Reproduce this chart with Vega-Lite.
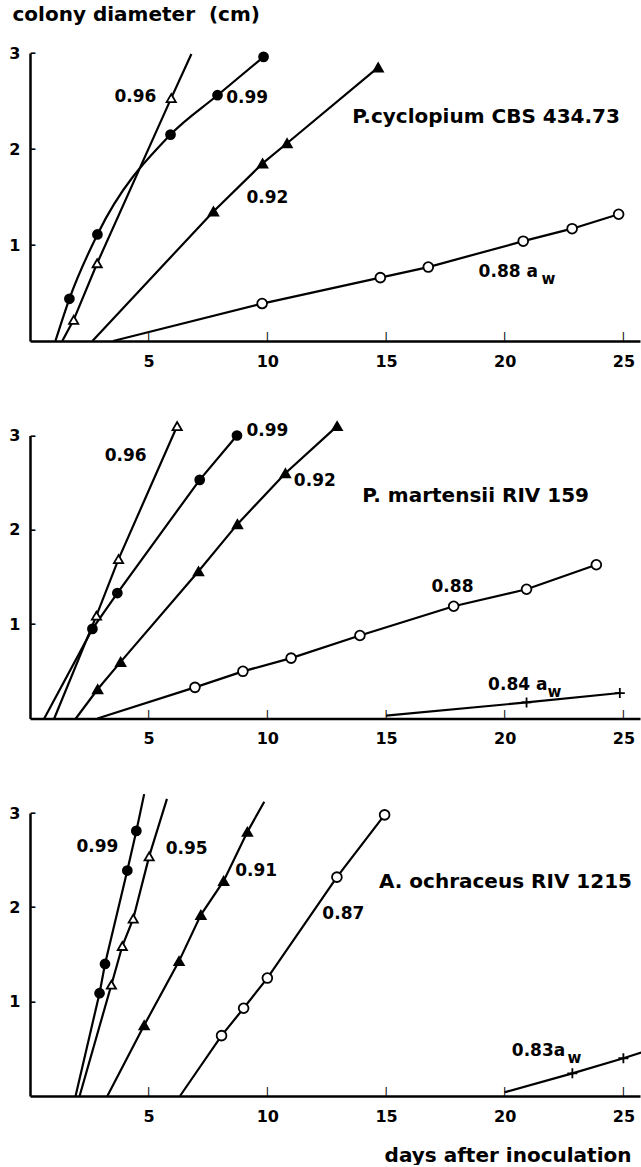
{
  "$schema": "https://vega.github.io/schema/vega-lite/v6.json",
  "bounds": "flush",
  "spacing": 94.5,
  "padding": {"left": 8, "top": 4, "right": 0, "bottom": 0},
  "background": "white",
  "config": {
    "view": {"stroke": null},
    "font": "DejaVu Sans",
    "axis": {
      "grid": false,
      "domainColor": "black",
      "domainWidth": 2.5,
      "ticks": false,
      "labelFont": "DejaVu Sans",
      "labelFontWeight": "bold",
      "labelFontSize": 16,
      "labelColor": "black",
      "titleFont": "DejaVu Sans",
      "titleFontWeight": "bold",
      "titleFontSize": 20,
      "titleColor": "black"
    },
    "axisX": {"labelPadding": 12},
    "axisY": {"labelPadding": 10}
  },
  "resolve": {"scale": {"x": "independent", "y": "independent"}},
  "datasets": {
    "guideMarks": [
      {"panel": "cyc", "dir": "up", "day": 5, "diam": 0},
      {"panel": "cyc", "dir": "up", "day": 10, "diam": 0},
      {"panel": "cyc", "dir": "up", "day": 15, "diam": 0},
      {"panel": "cyc", "dir": "up", "day": 20, "diam": 0},
      {"panel": "cyc", "dir": "up", "day": 25, "diam": 0},
      {"panel": "cyc", "dir": "right", "day": 0, "diam": 1},
      {"panel": "cyc", "dir": "right", "day": 0, "diam": 2},
      {"panel": "cyc", "dir": "right", "day": 0, "diam": 3},
      {"panel": "mar", "dir": "up", "day": 5, "diam": 0},
      {"panel": "mar", "dir": "up", "day": 10, "diam": 0},
      {"panel": "mar", "dir": "up", "day": 15, "diam": 0},
      {"panel": "mar", "dir": "up", "day": 20, "diam": 0},
      {"panel": "mar", "dir": "up", "day": 25, "diam": 0},
      {"panel": "mar", "dir": "right", "day": 0, "diam": 1},
      {"panel": "mar", "dir": "right", "day": 0, "diam": 2},
      {"panel": "mar", "dir": "right", "day": 0, "diam": 3},
      {"panel": "och", "dir": "up", "day": 5, "diam": 0},
      {"panel": "och", "dir": "up", "day": 10, "diam": 0},
      {"panel": "och", "dir": "up", "day": 15, "diam": 0},
      {"panel": "och", "dir": "up", "day": 20, "diam": 0},
      {"panel": "och", "dir": "up", "day": 25, "diam": 0},
      {"panel": "och", "dir": "right", "day": 0, "diam": 1},
      {"panel": "och", "dir": "right", "day": 0, "diam": 2},
      {"panel": "och", "dir": "right", "day": 0, "diam": 3}
    ],
    "points": [
      {"panel": "cyc", "aw": "0.99", "rank": 1, "day": 1.66, "diam": 0.44},
      {"panel": "cyc", "aw": "0.99", "rank": 1, "day": 2.84, "diam": 1.11},
      {"panel": "cyc", "aw": "0.99", "rank": 1, "day": 5.92, "diam": 2.15},
      {"panel": "cyc", "aw": "0.99", "rank": 1, "day": 7.9, "diam": 2.56},
      {"panel": "cyc", "aw": "0.99", "rank": 1, "day": 9.84, "diam": 2.96},
      {"panel": "cyc", "aw": "0.96", "rank": 2, "day": 1.84, "diam": 0.22},
      {"panel": "cyc", "aw": "0.96", "rank": 2, "day": 2.83, "diam": 0.81},
      {"panel": "cyc", "aw": "0.96", "rank": 2, "day": 5.95, "diam": 2.53},
      {"panel": "cyc", "aw": "0.92", "rank": 3, "day": 7.73, "diam": 1.35},
      {"panel": "cyc", "aw": "0.92", "rank": 3, "day": 9.8, "diam": 1.85},
      {"panel": "cyc", "aw": "0.92", "rank": 3, "day": 10.83, "diam": 2.06},
      {"panel": "cyc", "aw": "0.92", "rank": 3, "day": 14.67, "diam": 2.85},
      {"panel": "cyc", "aw": "0.88", "rank": 4, "day": 9.78, "diam": 0.39},
      {"panel": "cyc", "aw": "0.88", "rank": 4, "day": 14.76, "diam": 0.66},
      {"panel": "cyc", "aw": "0.88", "rank": 4, "day": 16.78, "diam": 0.77},
      {"panel": "cyc", "aw": "0.88", "rank": 4, "day": 20.78, "diam": 1.04},
      {"panel": "cyc", "aw": "0.88", "rank": 4, "day": 22.84, "diam": 1.17},
      {"panel": "cyc", "aw": "0.88", "rank": 4, "day": 24.8, "diam": 1.32},

      {"panel": "mar", "aw": "0.99", "rank": 1, "day": 2.63, "diam": 0.95},
      {"panel": "mar", "aw": "0.99", "rank": 1, "day": 3.68, "diam": 1.33},
      {"panel": "mar", "aw": "0.99", "rank": 1, "day": 7.15, "diam": 2.53},
      {"panel": "mar", "aw": "0.99", "rank": 1, "day": 8.72, "diam": 3.0},
      {"panel": "mar", "aw": "0.96", "rank": 2, "day": 2.8, "diam": 1.09},
      {"panel": "mar", "aw": "0.96", "rank": 2, "day": 3.73, "diam": 1.69},
      {"panel": "mar", "aw": "0.96", "rank": 2, "day": 6.2, "diam": 3.1},
      {"panel": "mar", "aw": "0.92", "rank": 3, "day": 2.85, "diam": 0.31},
      {"panel": "mar", "aw": "0.92", "rank": 3, "day": 3.82, "diam": 0.6},
      {"panel": "mar", "aw": "0.92", "rank": 3, "day": 7.1, "diam": 1.56},
      {"panel": "mar", "aw": "0.92", "rank": 3, "day": 8.74, "diam": 2.06},
      {"panel": "mar", "aw": "0.92", "rank": 3, "day": 10.76, "diam": 2.6},
      {"panel": "mar", "aw": "0.92", "rank": 3, "day": 12.94, "diam": 3.1},
      {"panel": "mar", "aw": "0.88", "rank": 4, "day": 6.95, "diam": 0.33},
      {"panel": "mar", "aw": "0.88", "rank": 4, "day": 8.97, "diam": 0.5},
      {"panel": "mar", "aw": "0.88", "rank": 4, "day": 11.0, "diam": 0.64},
      {"panel": "mar", "aw": "0.88", "rank": 4, "day": 13.9, "diam": 0.88},
      {"panel": "mar", "aw": "0.88", "rank": 4, "day": 17.85, "diam": 1.19},
      {"panel": "mar", "aw": "0.88", "rank": 4, "day": 20.92, "diam": 1.37},
      {"panel": "mar", "aw": "0.88", "rank": 4, "day": 23.86, "diam": 1.63},
      {"panel": "mar", "aw": "0.84", "rank": 5, "day": 20.92, "diam": 0.17},
      {"panel": "mar", "aw": "0.84", "rank": 5, "day": 24.85, "diam": 0.27},

      {"panel": "och", "aw": "0.99", "rank": 1, "day": 2.93, "diam": 1.09},
      {"panel": "och", "aw": "0.99", "rank": 1, "day": 3.16, "diam": 1.4},
      {"panel": "och", "aw": "0.99", "rank": 1, "day": 4.1, "diam": 2.39},
      {"panel": "och", "aw": "0.99", "rank": 1, "day": 4.48, "diam": 2.81},
      {"panel": "och", "aw": "0.95", "rank": 2, "day": 3.43, "diam": 1.18},
      {"panel": "och", "aw": "0.95", "rank": 2, "day": 3.89, "diam": 1.59},
      {"panel": "och", "aw": "0.95", "rank": 2, "day": 4.35, "diam": 1.88},
      {"panel": "och", "aw": "0.95", "rank": 2, "day": 5.02, "diam": 2.54},
      {"panel": "och", "aw": "0.91", "rank": 3, "day": 4.81, "diam": 0.75},
      {"panel": "och", "aw": "0.91", "rank": 3, "day": 6.28, "diam": 1.43},
      {"panel": "och", "aw": "0.91", "rank": 3, "day": 7.2, "diam": 1.92},
      {"panel": "och", "aw": "0.91", "rank": 3, "day": 8.16, "diam": 2.28},
      {"panel": "och", "aw": "0.91", "rank": 3, "day": 9.16, "diam": 2.8},
      {"panel": "och", "aw": "0.87", "rank": 4, "day": 8.07, "diam": 0.64},
      {"panel": "och", "aw": "0.87", "rank": 4, "day": 9.0, "diam": 0.93},
      {"panel": "och", "aw": "0.87", "rank": 4, "day": 10.0, "diam": 1.25},
      {"panel": "och", "aw": "0.87", "rank": 4, "day": 12.93, "diam": 2.32},
      {"panel": "och", "aw": "0.87", "rank": 4, "day": 14.94, "diam": 2.98},
      {"panel": "och", "aw": "0.83", "rank": 5, "day": 22.85, "diam": 0.24},
      {"panel": "och", "aw": "0.83", "rank": 5, "day": 25.0, "diam": 0.4}
    ],
    "lines": [
      {"panel": "cyc", "aw": "0.99", "day": 1.07, "diam": 0},
      {"panel": "cyc", "aw": "0.99", "day": 1.66, "diam": 0.44},
      {"panel": "cyc", "aw": "0.99", "day": 2.84, "diam": 1.11},
      {"panel": "cyc", "aw": "0.99", "day": 5.92, "diam": 2.15},
      {"panel": "cyc", "aw": "0.99", "day": 7.9, "diam": 2.56},
      {"panel": "cyc", "aw": "0.99", "day": 9.84, "diam": 2.96},
      {"panel": "cyc", "aw": "0.96", "day": 1.36, "diam": 0},
      {"panel": "cyc", "aw": "0.96", "day": 1.84, "diam": 0.22},
      {"panel": "cyc", "aw": "0.96", "day": 2.83, "diam": 0.81},
      {"panel": "cyc", "aw": "0.96", "day": 5.95, "diam": 2.53},
      {"panel": "cyc", "aw": "0.96", "day": 6.8, "diam": 2.99},
      {"panel": "cyc", "aw": "0.92", "day": 2.63, "diam": 0},
      {"panel": "cyc", "aw": "0.92", "day": 7.73, "diam": 1.35},
      {"panel": "cyc", "aw": "0.92", "day": 9.8, "diam": 1.85},
      {"panel": "cyc", "aw": "0.92", "day": 10.83, "diam": 2.06},
      {"panel": "cyc", "aw": "0.92", "day": 14.67, "diam": 2.85},
      {"panel": "cyc", "aw": "0.88", "day": 3.5, "diam": 0},
      {"panel": "cyc", "aw": "0.88", "day": 9.78, "diam": 0.39},
      {"panel": "cyc", "aw": "0.88", "day": 14.76, "diam": 0.66},
      {"panel": "cyc", "aw": "0.88", "day": 16.78, "diam": 0.77},
      {"panel": "cyc", "aw": "0.88", "day": 20.78, "diam": 1.04},
      {"panel": "cyc", "aw": "0.88", "day": 22.84, "diam": 1.17},
      {"panel": "cyc", "aw": "0.88", "day": 24.8, "diam": 1.32},

      {"panel": "mar", "aw": "0.99", "day": 0.6, "diam": 0},
      {"panel": "mar", "aw": "0.99", "day": 2.63, "diam": 0.95},
      {"panel": "mar", "aw": "0.99", "day": 3.68, "diam": 1.33},
      {"panel": "mar", "aw": "0.99", "day": 7.15, "diam": 2.53},
      {"panel": "mar", "aw": "0.99", "day": 8.72, "diam": 3.0},
      {"panel": "mar", "aw": "0.96", "day": 1.02, "diam": 0},
      {"panel": "mar", "aw": "0.96", "day": 2.8, "diam": 1.09},
      {"panel": "mar", "aw": "0.96", "day": 3.73, "diam": 1.69},
      {"panel": "mar", "aw": "0.96", "day": 6.2, "diam": 3.1},
      {"panel": "mar", "aw": "0.92", "day": 1.93, "diam": 0},
      {"panel": "mar", "aw": "0.92", "day": 2.85, "diam": 0.31},
      {"panel": "mar", "aw": "0.92", "day": 3.82, "diam": 0.6},
      {"panel": "mar", "aw": "0.92", "day": 7.1, "diam": 1.56},
      {"panel": "mar", "aw": "0.92", "day": 8.74, "diam": 2.06},
      {"panel": "mar", "aw": "0.92", "day": 10.76, "diam": 2.6},
      {"panel": "mar", "aw": "0.92", "day": 12.94, "diam": 3.1},
      {"panel": "mar", "aw": "0.88", "day": 2.84, "diam": 0},
      {"panel": "mar", "aw": "0.88", "day": 6.95, "diam": 0.33},
      {"panel": "mar", "aw": "0.88", "day": 8.97, "diam": 0.5},
      {"panel": "mar", "aw": "0.88", "day": 11.0, "diam": 0.64},
      {"panel": "mar", "aw": "0.88", "day": 13.9, "diam": 0.88},
      {"panel": "mar", "aw": "0.88", "day": 17.85, "diam": 1.19},
      {"panel": "mar", "aw": "0.88", "day": 20.92, "diam": 1.37},
      {"panel": "mar", "aw": "0.88", "day": 23.86, "diam": 1.63},
      {"panel": "mar", "aw": "0.84", "day": 15.0, "diam": 0.03},
      {"panel": "mar", "aw": "0.84", "day": 20.92, "diam": 0.17},
      {"panel": "mar", "aw": "0.84", "day": 24.85, "diam": 0.27},

      {"panel": "och", "aw": "0.99", "day": 1.92, "diam": 0},
      {"panel": "och", "aw": "0.99", "day": 2.93, "diam": 1.09},
      {"panel": "och", "aw": "0.99", "day": 3.16, "diam": 1.4},
      {"panel": "och", "aw": "0.99", "day": 4.1, "diam": 2.39},
      {"panel": "och", "aw": "0.99", "day": 4.48, "diam": 2.81},
      {"panel": "och", "aw": "0.99", "day": 4.81, "diam": 3.2},
      {"panel": "och", "aw": "0.95", "day": 2.09, "diam": 0},
      {"panel": "och", "aw": "0.95", "day": 3.43, "diam": 1.18},
      {"panel": "och", "aw": "0.95", "day": 3.89, "diam": 1.59},
      {"panel": "och", "aw": "0.95", "day": 4.35, "diam": 1.88},
      {"panel": "och", "aw": "0.95", "day": 5.02, "diam": 2.54},
      {"panel": "och", "aw": "0.95", "day": 5.77, "diam": 3.15},
      {"panel": "och", "aw": "0.91", "day": 3.26, "diam": 0},
      {"panel": "och", "aw": "0.91", "day": 4.81, "diam": 0.75},
      {"panel": "och", "aw": "0.91", "day": 6.28, "diam": 1.43},
      {"panel": "och", "aw": "0.91", "day": 7.2, "diam": 1.92},
      {"panel": "och", "aw": "0.91", "day": 8.16, "diam": 2.28},
      {"panel": "och", "aw": "0.91", "day": 9.16, "diam": 2.8},
      {"panel": "och", "aw": "0.91", "day": 9.87, "diam": 3.12},
      {"panel": "och", "aw": "0.87", "day": 6.32, "diam": 0},
      {"panel": "och", "aw": "0.87", "day": 8.07, "diam": 0.64},
      {"panel": "och", "aw": "0.87", "day": 9.0, "diam": 0.93},
      {"panel": "och", "aw": "0.87", "day": 10.0, "diam": 1.25},
      {"panel": "och", "aw": "0.87", "day": 12.93, "diam": 2.32},
      {"panel": "och", "aw": "0.87", "day": 14.94, "diam": 2.98},
      {"panel": "och", "aw": "0.83", "day": 20.0, "diam": 0.04},
      {"panel": "och", "aw": "0.83", "day": 22.85, "diam": 0.24},
      {"panel": "och", "aw": "0.83", "day": 25.0, "diam": 0.4},
      {"panel": "och", "aw": "0.83", "day": 25.75, "diam": 0.46}
    ],
    "awLabels": [
      {"panel": "cyc", "text": "0.96", "day": 4.44, "diam": 2.54},
      {"panel": "cyc", "text": "0.99", "day": 9.15, "diam": 2.53},
      {"panel": "cyc", "text": "0.92", "day": 10.0, "diam": 1.49},
      {"panel": "mar", "text": "0.96", "day": 4.03, "diam": 2.78},
      {"panel": "mar", "text": "0.99", "day": 10.0, "diam": 3.05},
      {"panel": "mar", "text": "0.92", "day": 12.0, "diam": 2.52},
      {"panel": "mar", "text": "0.88", "day": 17.8, "diam": 1.39},
      {"panel": "och", "text": "0.99", "day": 2.84, "diam": 2.64},
      {"panel": "och", "text": "0.95", "day": 6.6, "diam": 2.62},
      {"panel": "och", "text": "0.91", "day": 9.53, "diam": 2.38},
      {"panel": "och", "text": "0.87", "day": 13.2, "diam": 1.93}
    ],
    "awEnd": [
      {"panel": "cyc", "text": "0.88 a", "day": 18.9, "diam": 0.72},
      {"panel": "mar", "text": "0.84 a", "day": 19.3, "diam": 0.36},
      {"panel": "och", "text": "0.83a", "day": 20.3, "diam": 0.48}
    ],
    "awSub": [
      {"panel": "cyc", "text": "w", "day": 21.55, "diam": 0.65},
      {"panel": "mar", "text": "w", "day": 21.8, "diam": 0.28},
      {"panel": "och", "text": "w", "day": 22.65, "diam": 0.4}
    ],
    "species": [
      {"panel": "cyc", "text": "P.cyclopium CBS 434.73", "day": 13.58, "diam": 2.33},
      {"panel": "mar", "text": "P. martensii RIV 159", "day": 14.0, "diam": 2.36},
      {"panel": "och", "text": "A. ochraceus RIV 1215", "day": 14.7, "diam": 2.27}
    ]
  },
  "vconcat": [
    {
      "width": 610,
      "height": 288,
      "encoding": {
        "x": {"field": "day", "type": "quantitative", "scale": {"domain": [0, 25.7]},
              "axis": {"values": [5, 10, 15, 20, 25], "title": null}},
        "y": {"field": "diam", "type": "quantitative", "scale": {"domain": [0, 3]},
              "axis": {"values": [1, 2, 3], "title": "colony diameter\u00a0\u00a0(cm)", "titleAngle": 0,
                       "titleAlign": "left", "titleBaseline": "top", "titleX": -18, "titleY": -49}}
      },
      "layer": [
        {"data": {"name": "lines"}, "transform": [{"filter": "datum.panel === 'cyc' && datum.aw !== '0.99'"}],
         "mark": {"type": "line", "color": "black", "strokeWidth": 2.2},
         "encoding": {"detail": {"field": "aw"}}},
        {"data": {"name": "lines"}, "transform": [{"filter": "datum.panel === 'cyc' && datum.aw === '0.99'"}],
         "mark": {"type": "line", "interpolate": "monotone", "color": "black", "strokeWidth": 2.2},
         "encoding": {"detail": {"field": "aw"}}},
        {"data": {"name": "points"}, "transform": [{"filter": "datum.panel === 'cyc'"}],
         "mark": {"type": "point", "filled": true, "stroke": "black", "strokeWidth": 1.8, "opacity": 1},
         "encoding": {
           "shape": {"field": "rank", "type": "ordinal", "scale": {"domain": [1, 2, 3, 4, 5], "range": ["circle", "triangle-up", "triangle-up", "circle", "M -1 0 L 1 0 M 0 -1 L 0 1"]}, "legend": null},
           "fill": {"field": "rank", "type": "ordinal", "scale": {"domain": [1, 2, 3, 4, 5], "range": ["black", "white", "black", "white", "black"]}, "legend": null},
           "size": {"field": "rank", "type": "ordinal", "scale": {"domain": [1, 2, 3, 4, 5], "range": [80, 100, 100, 45, 70]}, "legend": null}
         }},
        {"data": {"name": "awLabels"}, "transform": [{"filter": "datum.panel === 'cyc'"}],
         "mark": {"type": "text", "font": "DejaVu Sans", "fontWeight": "bold", "fontSize": 17, "align": "center", "baseline": "middle", "color": "black"},
         "encoding": {"text": {"field": "text"}}},
        {"data": {"name": "awEnd"}, "transform": [{"filter": "datum.panel === 'cyc'"}],
         "mark": {"type": "text", "font": "DejaVu Sans", "fontWeight": "bold", "fontSize": 17, "align": "left", "baseline": "middle", "color": "black"},
         "encoding": {"text": {"field": "text"}}},
        {"data": {"name": "awSub"}, "transform": [{"filter": "datum.panel === 'cyc'"}],
         "mark": {"type": "text", "font": "DejaVu Sans", "fontWeight": "bold", "fontSize": 15, "align": "left", "baseline": "middle", "color": "black"},
         "encoding": {"text": {"field": "text"}}},
        {"data": {"name": "species"}, "transform": [{"filter": "datum.panel === 'cyc'"}],
         "mark": {"type": "text", "font": "DejaVu Sans", "fontWeight": "bold", "fontSize": 20, "align": "left", "baseline": "middle", "color": "black"},
         "encoding": {"text": {"field": "text"}}},
        {"data": {"name": "guideMarks"}, "transform": [{"filter": "datum.panel === 'cyc' && datum.dir === 'up'"}],
         "mark": {"type": "text", "text": "|", "font": "DejaVu Sans", "fontWeight": "bold", "fontSize": 9, "align": "center", "baseline": "bottom", "color": "black"},
         "encoding": {"x": {"field": "day", "type": "quantitative"}, "y": {"field": "diam", "type": "quantitative"}}},
        {"data": {"name": "guideMarks"}, "transform": [{"filter": "datum.panel === 'cyc' && datum.dir === 'right'"}],
         "mark": {"type": "text", "text": "\u2013", "font": "DejaVu Sans", "fontWeight": "bold", "fontSize": 12, "align": "left", "baseline": "middle", "color": "black"},
         "encoding": {"x": {"field": "day", "type": "quantitative"}, "y": {"field": "diam", "type": "quantitative"}}}
      ]
    },
    {
      "width": 610,
      "height": 283,
      "encoding": {
        "x": {"field": "day", "type": "quantitative", "scale": {"domain": [0, 25.7]},
              "axis": {"values": [5, 10, 15, 20, 25], "title": null}},
        "y": {"field": "diam", "type": "quantitative", "scale": {"domain": [0, 3]},
              "axis": {"values": [1, 2, 3], "title": null}}
      },
      "layer": [
        {"data": {"name": "lines"}, "transform": [{"filter": "datum.panel === 'mar'"}],
         "mark": {"type": "line", "color": "black", "strokeWidth": 2.2},
         "encoding": {"detail": {"field": "aw"}}},
        {"data": {"name": "points"}, "transform": [{"filter": "datum.panel === 'mar'"}],
         "mark": {"type": "point", "filled": true, "stroke": "black", "strokeWidth": 1.8, "opacity": 1},
         "encoding": {
           "shape": {"field": "rank", "type": "ordinal", "scale": {"domain": [1, 2, 3, 4, 5], "range": ["circle", "triangle-up", "triangle-up", "circle", "M -1 0 L 1 0 M 0 -1 L 0 1"]}, "legend": null},
           "fill": {"field": "rank", "type": "ordinal", "scale": {"domain": [1, 2, 3, 4, 5], "range": ["black", "white", "black", "white", "black"]}, "legend": null},
           "size": {"field": "rank", "type": "ordinal", "scale": {"domain": [1, 2, 3, 4, 5], "range": [80, 100, 100, 45, 70]}, "legend": null}
         }},
        {"data": {"name": "awLabels"}, "transform": [{"filter": "datum.panel === 'mar'"}],
         "mark": {"type": "text", "font": "DejaVu Sans", "fontWeight": "bold", "fontSize": 17, "align": "center", "baseline": "middle", "color": "black"},
         "encoding": {"text": {"field": "text"}}},
        {"data": {"name": "awEnd"}, "transform": [{"filter": "datum.panel === 'mar'"}],
         "mark": {"type": "text", "font": "DejaVu Sans", "fontWeight": "bold", "fontSize": 17, "align": "left", "baseline": "middle", "color": "black"},
         "encoding": {"text": {"field": "text"}}},
        {"data": {"name": "awSub"}, "transform": [{"filter": "datum.panel === 'mar'"}],
         "mark": {"type": "text", "font": "DejaVu Sans", "fontWeight": "bold", "fontSize": 15, "align": "left", "baseline": "middle", "color": "black"},
         "encoding": {"text": {"field": "text"}}},
        {"data": {"name": "species"}, "transform": [{"filter": "datum.panel === 'mar'"}],
         "mark": {"type": "text", "font": "DejaVu Sans", "fontWeight": "bold", "fontSize": 20, "align": "left", "baseline": "middle", "color": "black"},
         "encoding": {"text": {"field": "text"}}},
        {"data": {"name": "guideMarks"}, "transform": [{"filter": "datum.panel === 'mar' && datum.dir === 'up'"}],
         "mark": {"type": "text", "text": "|", "font": "DejaVu Sans", "fontWeight": "bold", "fontSize": 9, "align": "center", "baseline": "bottom", "color": "black"},
         "encoding": {"x": {"field": "day", "type": "quantitative"}, "y": {"field": "diam", "type": "quantitative"}}},
        {"data": {"name": "guideMarks"}, "transform": [{"filter": "datum.panel === 'mar' && datum.dir === 'right'"}],
         "mark": {"type": "text", "text": "\u2013", "font": "DejaVu Sans", "fontWeight": "bold", "fontSize": 12, "align": "left", "baseline": "middle", "color": "black"},
         "encoding": {"x": {"field": "day", "type": "quantitative"}, "y": {"field": "diam", "type": "quantitative"}}}
      ]
    },
    {
      "width": 610,
      "height": 283,
      "encoding": {
        "x": {"field": "day", "type": "quantitative", "scale": {"domain": [0, 25.7]},
              "axis": {"values": [5, 10, 15, 20, 25], "title": "days after inoculation",
                       "titleAlign": "right", "titleBaseline": "middle", "titleX": 601, "titleY": 59}},
        "y": {"field": "diam", "type": "quantitative", "scale": {"domain": [0, 3]},
              "axis": {"values": [1, 2, 3], "title": null}}
      },
      "layer": [
        {"data": {"name": "lines"}, "transform": [{"filter": "datum.panel === 'och'"}],
         "mark": {"type": "line", "color": "black", "strokeWidth": 2.2},
         "encoding": {"detail": {"field": "aw"}}},
        {"data": {"name": "points"}, "transform": [{"filter": "datum.panel === 'och'"}],
         "mark": {"type": "point", "filled": true, "stroke": "black", "strokeWidth": 1.8, "opacity": 1},
         "encoding": {
           "shape": {"field": "rank", "type": "ordinal", "scale": {"domain": [1, 2, 3, 4, 5], "range": ["circle", "triangle-up", "triangle-up", "circle", "M -1 0 L 1 0 M 0 -1 L 0 1"]}, "legend": null},
           "fill": {"field": "rank", "type": "ordinal", "scale": {"domain": [1, 2, 3, 4, 5], "range": ["black", "white", "black", "white", "black"]}, "legend": null},
           "size": {"field": "rank", "type": "ordinal", "scale": {"domain": [1, 2, 3, 4, 5], "range": [80, 100, 100, 45, 70]}, "legend": null}
         }},
        {"data": {"name": "awLabels"}, "transform": [{"filter": "datum.panel === 'och'"}],
         "mark": {"type": "text", "font": "DejaVu Sans", "fontWeight": "bold", "fontSize": 17, "align": "center", "baseline": "middle", "color": "black"},
         "encoding": {"text": {"field": "text"}}},
        {"data": {"name": "awEnd"}, "transform": [{"filter": "datum.panel === 'och'"}],
         "mark": {"type": "text", "font": "DejaVu Sans", "fontWeight": "bold", "fontSize": 17, "align": "left", "baseline": "middle", "color": "black"},
         "encoding": {"text": {"field": "text"}}},
        {"data": {"name": "awSub"}, "transform": [{"filter": "datum.panel === 'och'"}],
         "mark": {"type": "text", "font": "DejaVu Sans", "fontWeight": "bold", "fontSize": 15, "align": "left", "baseline": "middle", "color": "black"},
         "encoding": {"text": {"field": "text"}}},
        {"data": {"name": "species"}, "transform": [{"filter": "datum.panel === 'och'"}],
         "mark": {"type": "text", "font": "DejaVu Sans", "fontWeight": "bold", "fontSize": 20, "align": "left", "baseline": "middle", "color": "black"},
         "encoding": {"text": {"field": "text"}}},
        {"data": {"name": "guideMarks"}, "transform": [{"filter": "datum.panel === 'och' && datum.dir === 'up'"}],
         "mark": {"type": "text", "text": "|", "font": "DejaVu Sans", "fontWeight": "bold", "fontSize": 9, "align": "center", "baseline": "bottom", "color": "black"},
         "encoding": {"x": {"field": "day", "type": "quantitative"}, "y": {"field": "diam", "type": "quantitative"}}},
        {"data": {"name": "guideMarks"}, "transform": [{"filter": "datum.panel === 'och' && datum.dir === 'right'"}],
         "mark": {"type": "text", "text": "\u2013", "font": "DejaVu Sans", "fontWeight": "bold", "fontSize": 12, "align": "left", "baseline": "middle", "color": "black"},
         "encoding": {"x": {"field": "day", "type": "quantitative"}, "y": {"field": "diam", "type": "quantitative"}}}
      ]
    }
  ]
}
